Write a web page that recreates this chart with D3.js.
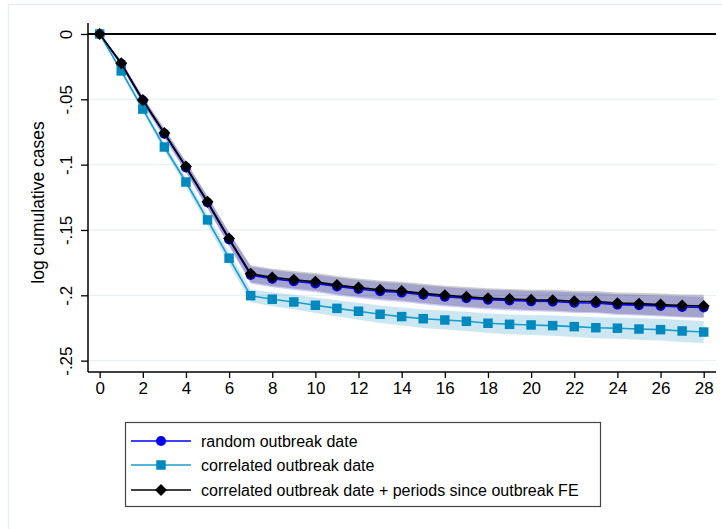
<!DOCTYPE html>
<html>
<head>
<meta charset="utf-8">
<script src="https://cdn.jsdelivr.net/npm/d3@7"></script>
<style>
  html, body { margin: 0; padding: 0; background: #fff; }
  svg { display: block; font-family: "Liberation Sans", Arial, sans-serif; }
</style>
</head>
<body>
<svg id="chart" width="722" height="529"></svg>
<script>
// ---------- data ----------
const periods = [0,1,2,3,4,5,6,7,8,9,10,11,12,13,14,15,16,17,18,19,20,21,22,23,24,25,26,27,28];
const randomDate = [0, -0.0228, -0.0510, -0.0763, -0.1021, -0.1290, -0.1573, -0.1845, -0.1873, -0.1892, -0.1909, -0.1933, -0.1952, -0.1969, -0.1979, -0.1996, -0.2011, -0.2023, -0.2033, -0.2039, -0.2046, -0.2048, -0.2057, -0.2059, -0.2071, -0.2075, -0.2082, -0.2089, -0.2093];
const correlatedDate = [0, -0.0283, -0.0575, -0.0865, -0.1133, -0.1423, -0.1716, -0.2003, -0.2030, -0.2051, -0.2076, -0.2100, -0.2122, -0.2145, -0.2163, -0.2179, -0.2189, -0.2199, -0.2214, -0.2222, -0.2227, -0.2232, -0.2240, -0.2248, -0.2252, -0.2258, -0.2263, -0.2273, -0.2281];
const correlatedFE = [0, -0.0224, -0.0505, -0.0757, -0.1015, -0.1284, -0.1566, -0.1835, -0.1863, -0.1881, -0.1897, -0.1922, -0.1941, -0.1958, -0.1968, -0.1985, -0.2000, -0.2012, -0.2022, -0.2028, -0.2035, -0.2037, -0.2046, -0.2048, -0.2060, -0.2064, -0.2071, -0.2078, -0.2082];
// 95% CI half-widths
const ciRandom = [0, 0.0020, 0.0028, 0.0034, 0.0040, 0.0045, 0.0050, 0.0065, 0.0066, 0.0067, 0.0068, 0.0069, 0.0070, 0.0071, 0.0072, 0.0073, 0.0074, 0.0075, 0.0076, 0.0077, 0.0077, 0.0078, 0.0078, 0.0079, 0.0079, 0.0080, 0.0080, 0.0081, 0.0081];
const ciCorrelated = [0, 0.0020, 0.0025, 0.0030, 0.0035, 0.0040, 0.0045, 0.0050, 0.0053, 0.0056, 0.0059, 0.0062, 0.0065, 0.0067, 0.0069, 0.0071, 0.0073, 0.0074, 0.0075, 0.0076, 0.0077, 0.0078, 0.0079, 0.0080, 0.0081, 0.0082, 0.0083, 0.0084, 0.0085];
const ciFE = [0, 0.0020, 0.0028, 0.0034, 0.0040, 0.0045, 0.0050, 0.0065, 0.0066, 0.0067, 0.0068, 0.0069, 0.0070, 0.0071, 0.0072, 0.0073, 0.0074, 0.0075, 0.0076, 0.0077, 0.0078, 0.0079, 0.0080, 0.0081, 0.0082, 0.0083, 0.0084, 0.0085, 0.0086];
const xTicks = [0,2,4,6,8,10,12,14,16,18,20,22,24,26,28];
const yTicks = [0, -0.05, -0.1, -0.15, -0.2, -0.25];
const yTickLabels = ["0", "-.05", "-.1", "-.15", "-.2", "-.25"];
const seriesNames = ["random outbreak date", "correlated outbreak date", "correlated outbreak date + periods since outbreak FE"];
const yTitle = "log cumulative cases";

// ---------- layout ----------
const svg = d3.select("#chart");
const plot = { left: 88, right: 716, top: 23, bottom: 372 };
const x = d3.scaleLinear().domain([-0.54, 28.57]).range([plot.left, plot.right]);
const y = d3.scaleLinear().domain([0.0084, -0.2587]).range([plot.top, plot.bottom]);
const FONT = "Liberation Sans, Arial, sans-serif";

// outer graph frame
svg.append("rect").attr("x", 8.5).attr("y", 4.5).attr("width", 740).attr("height", 540)
  .attr("fill", "none").attr("stroke", "#e6eff1").attr("stroke-width", 1.5);

// grid lines
svg.append("g").selectAll("line").data(yTicks).join("line")
  .attr("x1", plot.left).attr("x2", plot.right)
  .attr("y1", d => y(d)).attr("y2", d => y(d))
  .attr("stroke", "#e8f0f2").attr("stroke-width", 1.2);

const series = [
  { name: seriesNames[0], vals: randomDate, ci: ciRandom, color: "#0000ff", band: "#0000ff", marker: "circle" },
  { name: seriesNames[1], vals: correlatedDate, ci: ciCorrelated, color: "#1a9ccc", mcolor: "#0089bf", band: "#0088c0", marker: "square" },
  { name: seriesNames[2], vals: correlatedFE, ci: ciFE, color: "#000000", band: "#000000", marker: "diamond" }
];

// CI bands
const area = d3.area().x(d => x(d.p)).y0(d => y(d.v - d.c)).y1(d => y(d.v + d.c));
series.forEach(s => {
  const pts = periods.map((p, i) => ({ p, v: s.vals[i], c: s.ci[i] }));
  svg.append("path").datum(pts).attr("d", area)
    .attr("fill", s.band).attr("fill-opacity", 0.2).attr("stroke", "none");
});

// zero reference line
svg.append("line").attr("x1", plot.left).attr("x2", plot.right)
  .attr("y1", y(0)).attr("y2", y(0)).attr("stroke", "#000").attr("stroke-width", 2);

// lines + markers
const line = d3.line().x(d => x(d.p)).y(d => y(d.v));
const symbols = {
  circle: d3.symbol().type(d3.symbolCircle).size(80),
  square: d3.symbol().type(d3.symbolSquare).size(90),
  diamond: d3.symbol().type(d3.symbolSquare).size(72)
};
function drawMarker(g, type, cx, cy, color) {
  const p = g.append("path").attr("d", symbols[type]()).attr("fill", color);
  if (type === "diamond") p.attr("transform", `translate(${cx},${cy}) rotate(45)`);
  else p.attr("transform", `translate(${cx},${cy})`);
}
series.forEach(s => {
  const pts = periods.map((p, i) => ({ p, v: s.vals[i] }));
  svg.append("path").datum(pts).attr("d", line)
    .attr("fill", "none").attr("stroke", s.color).attr("stroke-width", 1.6);
  const g = svg.append("g");
  pts.forEach(d => drawMarker(g, s.marker, x(d.p), y(d.v), s.mcolor || s.color));
});

// axes
const xAxis = d3.axisBottom(x).tickValues(xTicks).tickSize(6).tickPadding(4).tickFormat(d3.format("d"));
const gx = svg.append("g").attr("transform", `translate(0,${plot.bottom})`).call(xAxis);
gx.select(".domain").attr("stroke", "#000").attr("stroke-width", 1.5).attr("d", `M${plot.left},0H${plot.right}`);
gx.selectAll(".tick line").attr("stroke", "#000").attr("stroke-width", 1.3);
gx.selectAll(".tick text").attr("font-size", 17).attr("fill", "#000").attr("font-family", FONT);

const yAxis = d3.axisLeft(y).tickValues(yTicks).tickSize(7).tickFormat((d, i) => yTickLabels[i]);
const gy = svg.append("g").attr("transform", `translate(${plot.left},0)`).call(yAxis);
gy.select(".domain").attr("stroke", "#000").attr("stroke-width", 1.5).attr("d", `M0,${plot.top}V${plot.bottom}`);
gy.selectAll(".tick line").attr("stroke", "#000").attr("stroke-width", 1.3);
gy.selectAll(".tick text")
  .attr("font-size", 17).attr("fill", "#000").attr("font-family", FONT)
  .attr("text-anchor", "middle").attr("dy", null).attr("x", null)
  .attr("transform", "translate(-22,0) rotate(-90)")
  .attr("dominant-baseline", "central");

// y title
svg.append("text").attr("transform", `translate(38,${(plot.top + plot.bottom) / 2 + 5}) rotate(-90)`)
  .attr("text-anchor", "middle").attr("dominant-baseline", "central")
  .attr("font-family", FONT).attr("font-size", 17.5).attr("fill", "#000").text(yTitle);

// legend
const lg = svg.append("g");
lg.append("rect").attr("x", 125.5).attr("y", 422.5).attr("width", 475).attr("height", 84)
  .attr("fill", "#fff").attr("stroke", "#444").attr("stroke-width", 1.2);
const rowY = [441, 465, 490];
series.forEach((s, i) => {
  lg.append("line").attr("x1", 131).attr("x2", 191).attr("y1", rowY[i]).attr("y2", rowY[i])
    .attr("stroke", s.color).attr("stroke-width", 1.6);
  drawMarker(lg, s.marker, 161, rowY[i], s.mcolor || s.color);
  lg.append("text").attr("x", 201).attr("y", rowY[i]).attr("dominant-baseline", "central")
    .attr("font-family", FONT).attr("font-size", 16).attr("fill", "#000").text(s.name);
});
</script>
</body>
</html>
